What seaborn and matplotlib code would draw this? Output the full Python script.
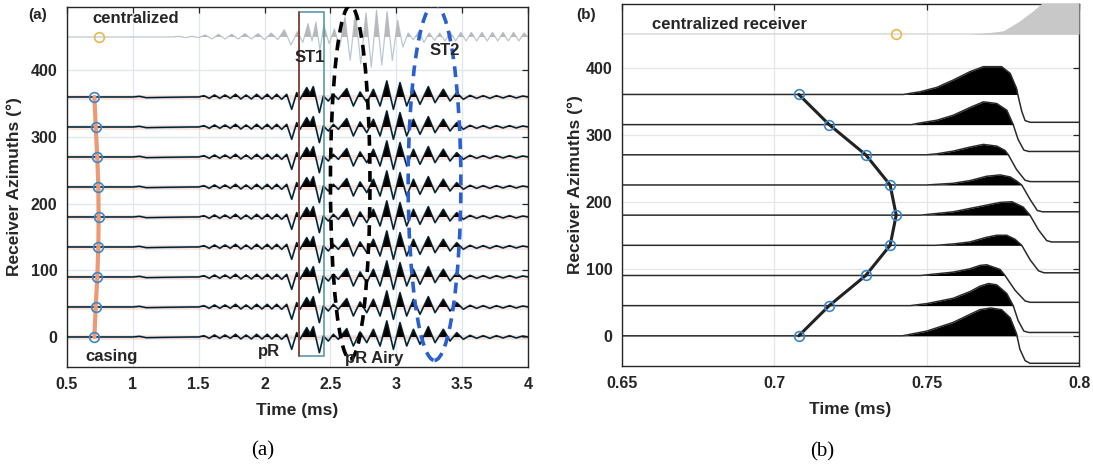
import matplotlib
matplotlib.use("Agg")
import numpy as np
import matplotlib.pyplot as plt
from matplotlib.patches import Ellipse, Rectangle
import seaborn as sns

# ---------------------------------------------------------
# DATA
# ---------------------------------------------------------
azimuths = [0, 45, 90, 135, 180, 225, 270, 315, 360]
central_azimuth = 450

# first-arrival picks (ms) per azimuth, casing case
pick_times = [0.708, 0.718, 0.730, 0.738, 0.740, 0.738, 0.730, 0.718, 0.708]
central_pick = 0.740

# panel (a): casing trace (same shape for all azimuths), amplitude in degrees of offset
a_time = [0.50, 1.00, 1.05, 1.10, 1.45, 1.50, 1.54, 1.58, 1.62, 1.66, 1.70, 1.74, 1.78,
          1.82, 1.86, 1.90, 1.94, 1.98, 2.02, 2.055, 2.092, 2.130, 2.168, 2.206, 2.244,
          2.269, 2.320, 2.345, 2.370, 2.416, 2.446, 2.484, 2.522, 2.560, 2.624, 2.674,
          2.725, 2.776, 2.826, 2.877, 2.928, 2.978, 3.028, 3.079, 3.130, 3.180, 3.243,
          3.294, 3.357, 3.408, 3.459, 3.509, 3.56, 3.61, 3.66, 3.71, 3.76, 3.81, 3.86,
          3.91, 3.96, 4.00]
a_amp = [0, 0, 1, -1, 0, 0, 2, -2, 3, -2, 3, -2, 4,
         -3, 3, -3, 4, -3, 4, -3, 4, -3.5, 4, -18.5, 6.5,
         -3.5, 14, 5, 15.5, -23.5, 1.5, -6, 4, -3.5, 12.5, -13.5,
         7.5, -8.5, 11.5, -13.5, 24, -18.5, 21.5, -13.5, 11.5, -11, 15.5,
         -8.5, 11.5, -6, 6.5, -3.5, 2.5, -2, 2, -2, 2, -1.5, 2,
         -1.5, 1.5, 0]

# panel (a): centralized receiver trace
c_time = [0.50, 1.30, 1.35, 1.40, 1.45, 1.50, 1.55, 1.60, 1.65, 1.70, 1.75, 1.80, 1.85,
          1.90, 1.95, 2.00, 2.05, 2.10, 2.15, 2.20, 2.25, 2.29, 2.33, 2.36, 2.39, 2.42,
          2.45, 2.49, 2.53, 2.57, 2.61, 2.65, 2.69, 2.73, 2.77, 2.81, 2.85, 2.89, 2.93,
          2.97, 3.01, 3.05, 3.09, 3.13, 3.17, 3.21, 3.25, 3.29, 3.33, 3.37, 3.41, 3.45,
          3.49, 3.53, 3.57, 3.61, 3.65, 3.69, 3.73, 3.77, 3.81, 3.85, 3.89, 3.93, 3.97, 4.00]
c_amp = [0, 0, 1, -1, 1, -1, 3, -3, 4, -3, 4, -3, 5,
         -3, 5, -4, 6, -4, 11, -12, 8, -8, 20, -6, 22, -20,
         18, -10, 12, -15, 30, -35, 38, -40, 36, -45, 40, -42, 38,
         -35, 25, -15, 6, -4, 8, -8, 6, -5, 6, -6, 7, -6,
         7, -6, 7, -6, 7, -6, 7, -6, 7, -6, 7, -6, 6, 0]

# panel (b): zoom on first arrival, one (time, amplitude) list per azimuth
b_times = [
    [0.650, 0.742, 0.750, 0.7587, 0.7642, 0.7675, 0.7710, 0.7746, 0.7774, 0.7795, 0.7806, 0.7823, 0.7839, 0.800],
    [0.650, 0.7445, 0.750, 0.7587, 0.7642, 0.7675, 0.7703, 0.7730, 0.7763, 0.7784, 0.7800, 0.7819, 0.7835, 0.800],
    [0.650, 0.748, 0.7587, 0.7642, 0.7675, 0.7697, 0.7741, 0.7757, 0.7790, 0.7823, 0.7840, 0.800],
    [0.650, 0.753, 0.7587, 0.7642, 0.7697, 0.7730, 0.7763, 0.7790, 0.7812, 0.7840, 0.7867, 0.7885, 0.800],
    [0.650, 0.748, 0.7587, 0.7642, 0.7697, 0.7741, 0.7780, 0.7817, 0.7839, 0.7867, 0.7894, 0.7910, 0.800],
    [0.650, 0.750, 0.7587, 0.7642, 0.7697, 0.7741, 0.7774, 0.7795, 0.7812, 0.7840, 0.7863, 0.7880, 0.800],
    [0.650, 0.750, 0.7533, 0.7587, 0.7642, 0.7686, 0.7730, 0.7757, 0.7768, 0.7795, 0.7823, 0.7840, 0.800],
    [0.650, 0.745, 0.7478, 0.7533, 0.7587, 0.7642, 0.7686, 0.7730, 0.7763, 0.7784, 0.7800, 0.7819, 0.7835, 0.800],
    [0.650, 0.7423, 0.7478, 0.7533, 0.7587, 0.7642, 0.7686, 0.7746, 0.7774, 0.7795, 0.7799, 0.7812, 0.7823, 0.7840, 0.800],
]
b_amps = [
    [0, 0, 7, 20, 32, 39, 41.5, 39, 27, 3, -20, -37, -41, -41],
    [0, 0, 3, 11, 21, 29, 33, 31, 18, 0, -22, -38, -40, -40],
    [0, 0, 5, 10, 15, 16, 9, 0, -22, -38, -40, -40],
    [0, 0, 2, 5, 12, 15, 15, 9, 0, -22, -38, -41, -41],
    [0, 0, 5, 10, 15, 19, 20, 12, 0, -22, -38, -40, -40],
    [0, 0, 2.5, 6.5, 13, 15, 12, 6, 0, -22, -38, -40, -40],
    [0, 0, 1.5, 5.5, 11.5, 15.5, 13, 6.5, 0, -22, -38, -40, -40],
    [0, 0, 2.5, 6.5, 14, 25.5, 34, 31.5, 21.5, 0, -22, -38, -40, -40],
    [0, 0, 4, 10.5, 21.5, 34, 41.5, 41.5, 31.5, 9, 0, -25, -39, -41.5, -41.5],
]
b_central_time = [0.650, 0.764, 0.770, 0.7752, 0.7806, 0.785, 0.790, 0.795, 0.800]
b_central_amp = [0, 0, 2, 5, 20, 35, 55, 70, 80]

# ---------------------------------------------------------
# STYLE
# ---------------------------------------------------------
sns.set_theme(style="whitegrid")
plt.rcParams["font.family"] = ["Liberation Sans", "DejaVu Sans"]
plt.rcParams["font.weight"] = "bold"
plt.rcParams["axes.labelweight"] = "bold"

DARK = "#262626"
BLUE_C = "#3b87c9"
fig = plt.figure(figsize=(10.93, 4.72), dpi=100)
ax_a = fig.add_axes([0.0613, 0.2225, 0.4218, 0.7627])
ax_b = fig.add_axes([0.5691, 0.2246, 0.4181, 0.767])


def style_axes(ax, grid_color):
    ax.set_facecolor("white")
    ax.grid(True, color=grid_color, lw=0.9)
    for sp in ax.spines.values():
        sp.set_color(DARK)
        sp.set_linewidth(1.0)
    ax.tick_params(direction="in", top=True, right=True, length=4, width=0.9,
                   colors=DARK, labelsize=11.5, pad=7)
    for lab in ax.get_xticklabels() + ax.get_yticklabels():
        lab.set_fontweight("bold")
    ax.set_yticks([0, 100, 200, 300, 400])
    ax.set_ylim(-45, 495)
    ax.set_ylabel("Receiver Azimuths (°)", fontsize=12.5, color=DARK)
    ax.set_xlabel("Time (ms)", fontsize=12.5, color=DARK)


def trace_line(ax, x, y, **kw):
    # plain polyline through the samples, no aggregation
    sns.lineplot(x=x, y=y, ax=ax, sort=False, estimator=None, errorbar=None, **kw)


# ---------------------------------------------------------
# PANEL (a)
# ---------------------------------------------------------
ax = ax_a
t_a = np.array(a_time)
for az in azimuths:
    ax.axhline(az, color="#f0a88a", lw=3.5, alpha=0.3, zorder=1)
    y = az + np.array(a_amp)
    ax.fill_between(t_a, az, y, where=y > az, interpolate=True, color="black", lw=0, zorder=3)
    trace_line(ax, t_a, y, color="#4f9fca", lw=1.4, zorder=2)
    trace_line(ax, t_a, y, color="#151515", lw=0.9, zorder=4)

t_c = np.array(c_time)
yc = central_azimuth + np.array(c_amp)
ax.fill_between(t_c, central_azimuth, yc, where=yc > central_azimuth, interpolate=True,
                color="#b8b8b8", lw=0, zorder=3)
trace_line(ax, t_c, yc, color="#b9c8d2", lw=0.9, zorder=2)

trace_line(ax, pick_times, azimuths, color="#eb9a74", lw=3, zorder=5)
ax.plot(pick_times, azimuths, "o", mfc="none", mec=BLUE_C, ms=7, mew=1.2, zorder=6)
ax.plot([central_pick], [central_azimuth], "o", mfc="none", mec="#e8b84a", ms=7, mew=1.2, zorder=6)

# ST1 window and dispersion ellipses
ax.add_patch(Rectangle((2.264, -28.5), 0.19, 516, fill=False, ec="#5b9aa8", lw=1.2, zorder=7))
ax.plot([2.264, 2.264], [-28.5, 487.6], color="#8e3b2e", lw=1.2, zorder=7)
ax.add_patch(Ellipse((2.65, 232), 0.30, 530, fill=False, ec="black", lw=2.6,
                     ls=(0, (3, 2)), zorder=8))
ax.add_patch(Ellipse((3.29, 232), 0.40, 534, fill=False, ec="#2a5fcf", lw=2.6,
                     ls=(0, (3, 2)), zorder=8))

txt = dict(fontsize=12, fontweight="bold", color=DARK, va="center", ha="left", zorder=9)
ax.text(0.695, 478, "centralized", **txt)
ax.text(0.637, -29, "casing", **txt)
ax.text(1.95, -22, "pR", **txt)
ax.text(2.231, 419, "ST1", **txt)
ax.text(3.256, 429, "ST2", **txt)
ax.text(2.611, -32, "pR Airy", **txt)

ax.set_xlim(0.5, 4.0)
ax.set_xticks([0.5, 1, 1.5, 2, 2.5, 3, 3.5, 4])
ax.set_xticklabels(["0.5", "1", "1.5", "2", "2.5", "3", "3.5", "4"])
style_axes(ax, "#dfe7ee")
ax.yaxis.set_label_coords(-0.098, 0.5)
ax.xaxis.set_label_coords(0.5, -0.10)

# ---------------------------------------------------------
# PANEL (b)
# ---------------------------------------------------------
ax = ax_b
for az, tt, aa in zip(azimuths, b_times, b_amps):
    tt = np.array(tt)
    y = az + np.array(aa)
    ax.fill_between(tt, az, y, where=y > az, interpolate=True, color="black", lw=0, zorder=3)
    trace_line(ax, tt, y, color="#2b2b2b", lw=1.1, zorder=4)

tbc = np.array(b_central_time)
ybc = central_azimuth + np.array(b_central_amp)
ax.axhline(central_azimuth, color="#dcdcdc", lw=1.2, zorder=2)
ax.fill_between(tbc, central_azimuth, ybc, where=ybc >= central_azimuth, color="#c8c8c8",
                lw=0, zorder=3)

trace_line(ax, pick_times, azimuths, color="#222222", lw=2.2, zorder=5)
ax.plot(pick_times, azimuths, "o", mfc="none", mec=BLUE_C, ms=7, mew=1.2, zorder=6)
ax.plot([central_pick], [central_azimuth], "o", mfc="none", mec="#e8b84a", ms=7, mew=1.2, zorder=6)

ax.text(0.6598, 464, "centralized receiver", **txt)

ax.set_xlim(0.65, 0.8)
ax.set_xticks([0.65, 0.7, 0.75, 0.8])
ax.set_xticklabels(["0.65", "0.7", "0.75", "0.8"])
style_axes(ax, "#e6e6e6")
ax.yaxis.set_label_coords(-0.085, 0.5)
ax.xaxis.set_label_coords(0.5, -0.10)

# panel tags and captions
fig.text(38 / 1093, 1 - 15 / 472, "(a)", fontsize=11, fontweight="bold", color=DARK,
         ha="center", va="center")
fig.text(586 / 1093, 1 - 15 / 472, "(b)", fontsize=11, fontweight="bold", color=DARK,
         ha="center", va="center")
fig.text(263 / 1093, 1 - 451 / 472, "(a)", fontsize=15, fontweight="normal",
         family=["Liberation Serif", "DejaVu Serif"], ha="center", va="center", color="black")
fig.text(822 / 1093, 1 - 452 / 472, "(b)", fontsize=15, fontweight="normal",
         family=["Liberation Serif", "DejaVu Serif"], ha="center", va="center", color="black")

fig.savefig("out.png", dpi=100)
